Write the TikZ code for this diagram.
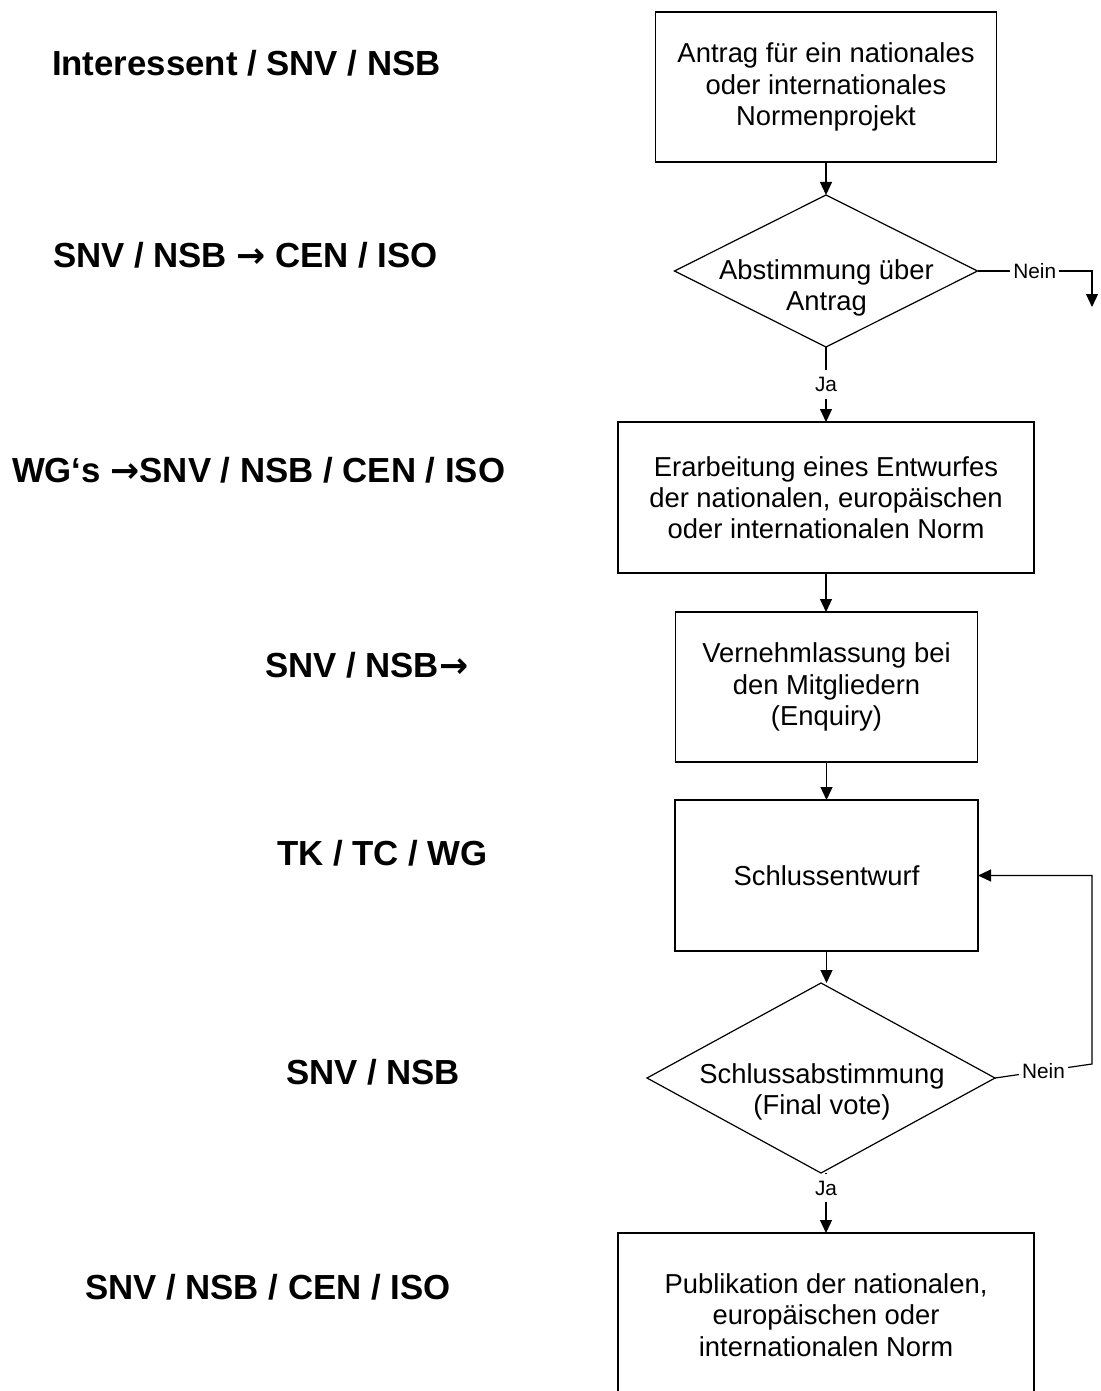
\documentclass[tikz,border=0pt]{standalone}
\usepackage{fontspec}
\setmainfont{Liberation Sans}
\newfontfamily\arrowfont{DejaVu Sans}
\newcommand{\rarr}{{\arrowfont\bfseries →}}
\usetikzlibrary{shapes.geometric,arrows.meta,calc}
\begin{document}
\begin{tikzpicture}[x=0.5pt,y=-0.5pt,
  every node/.style={inner sep=0pt,outer sep=0pt},
  procbox/.style={draw=black,line width=0.6pt,rectangle,align=center,font=\fontsize{13.7}{15.6}\selectfont},
  decbox/.style={draw=black,line width=0.6pt,diamond},
  dectext/.style={align=center,font=\fontsize{13.7}{15.6}\selectfont},
  lbl/.style={anchor=base west,font=\fontsize{17.4}{20}\selectfont\bfseries},
  yn/.style={fill=white,inner xsep=1.5pt,inner ysep=3.5pt,font=\fontsize{10.4}{12}\selectfont},
  arr/.style={draw=black,line width=0.6pt,-{Triangle[length=6.5pt,width=6pt]}},
  ln/.style={draw=black,line width=0.6pt}
]
\useasboundingbox (0,0) rectangle (1100,1391);
\clip (0,0) rectangle (1100,1391);

% left-hand role labels
\node[lbl] (l1) at (52,75.5) {Interessent / SNV / NSB};
\node[lbl] (l2) at (53,267.5) {SNV / NSB \rarr{} CEN / ISO};
\node[lbl] (l3) at (12,482.5) {WG‘s \rarr{}SNV / NSB / CEN / ISO};
\node[lbl] (l4) at (265,677.5) {SNV / NSB\rarr};
\node[lbl] (l5) at (277,865.5) {TK / TC / WG};
\node[lbl] (l6) at (286,1084.5) {SNV / NSB};
\node[lbl] (l7) at (85,1299.5) {SNV / NSB / CEN / ISO};

% flow nodes
\node[procbox,minimum width=170.5pt,minimum height=75pt] (b1) at (826,87)
  {Antrag für ein nationales\\oder internationales\\Normenprojekt};
\node[decbox,minimum width=151.5pt,minimum height=76pt] (d1) at (826,271) {};
\node[dectext] (d1t) at (826.5,288) {Abstimmung über\\Antrag};
\node[procbox,minimum width=208pt,minimum height=75.5pt] (b2) at (826,497.5)
  {Erarbeitung eines Entwurfes\\der nationalen, europäischen\\oder internationalen Norm};
\node[procbox,minimum width=151pt,minimum height=75pt] (b3) at (826.5,687)
  {Vernehmlassung bei\\den Mitgliedern\\(Enquiry)};
\node[procbox,minimum width=151.5pt,minimum height=75.5pt] (b4) at (826.5,875.5)
  {Schlussentwurf};
\node[decbox,minimum width=174pt,minimum height=95pt] (d2) at (821,1078) {};
\node[dectext] (d2t) at (822,1092) {Schlussabstimmung\\(Final vote)};
\node[procbox,minimum width=208pt,minimum height=82pt] (b5) at (826,1315)
  {Publikation der nationalen,\\europäischen oder\\internationalen Norm};

% connectors
\coordinate (n1) at (1092,271);
\coordinate (n1e) at (1092,307);
\coordinate (fb) at (1092,1064);

\draw[arr] (b1.south) -- (b1.south |- d1.north);
\draw[arr] (d1.east) -- node[yn]{Nein} (n1) -- (n1e);
\draw[arr] (d1.south) -- node[yn]{Ja} (d1.south |- b2.north);
\draw[arr] (b2.south) -- (b2.south |- b3.north);
\draw[arr] (b3.south) -- (b3.south |- b4.north);
\draw[arr] (b4.south) -- (b4.south |- d2.north);
\draw[arr] (d2.east) -- node[yn]{Nein} (fb) |- (b4.east);
\draw[arr] (b5.north |- d2.south) -- node[yn,pos=0.25]{Ja} (b5.north);
\end{tikzpicture}
\end{document}
